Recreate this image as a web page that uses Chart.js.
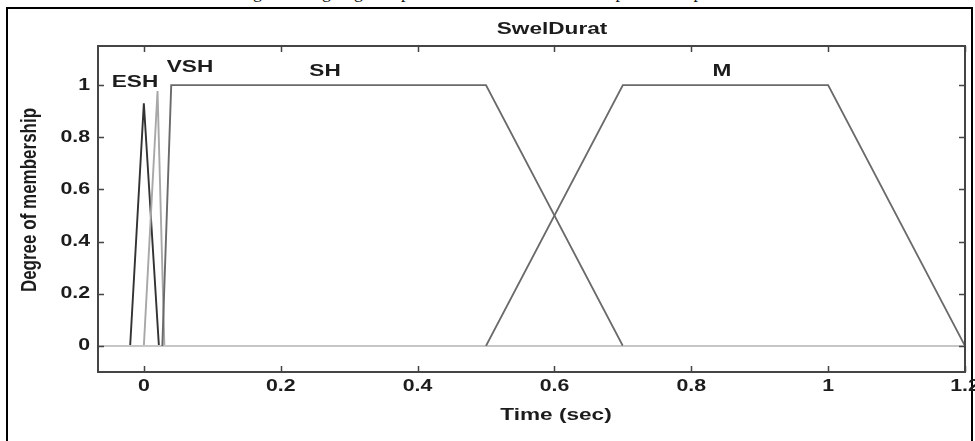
<!DOCTYPE html>
<html>
<head>
<meta charset="utf-8">
<script src="https://cdn.jsdelivr.net/npm/chart.js@4.4.1/dist/chart.umd.min.js"></script>
<style>
  html, body { margin: 0; padding: 0; background: #fff; }
  #wrap { position: relative; width: 975px; height: 441px; overflow: hidden; }
  #caption {
    position: absolute; left: 238px; top: -17px; white-space: nowrap;
    font: 18px/18px "Liberation Serif", serif; color: #111;
  }
  #mfChart { position: absolute; left: 0; top: 0; }
</style>
</head>
<body>
<div id="wrap">
  <div id="caption">Fig. 6&nbsp; Designing of input swell duration membership function plot</div>
  <canvas id="mfChart" width="975" height="441"></canvas>
</div>
<script>
// membership functions of SwelDurat (x = time in sec, y = degree of membership)
const eshX = [-0.067, -0.02, 0, 0.022, 1.2];
const eshY = [0, 0, 0.93, 0, 0];
const vshX = [-0.067, 0, 0.02, 0.03, 1.2];
const vshY = [0, 0, 0.977, 0, 0];
const shX = [-0.067, 0.027, 0.04, 0.5, 0.7, 1.2];
const shY = [0, 0, 1, 1, 0, 0];
const mX = [-0.067, 0.5, 0.7, 1.0, 1.2];
const mY = [0, 0, 1, 1, 0];

const mfNames = ['ESH', 'VSH', 'SH', 'M'];
const xTicks = [0, 0.2, 0.4, 0.6, 0.8, 1, 1.2];
const yTicks = [0, 0.2, 0.4, 0.6, 0.8, 1];

function pts(xs, ys) {
  return xs.map((x, i) => ({ x: x, y: ys[i] }));
}

const zeroGray = '#c6c6c6';
function mfDataset(label, xs, ys, color) {
  return {
    label: label,
    data: pts(xs, ys),
    borderColor: color,
    borderWidth: 1.9,
    pointRadius: 0,
    tension: 0,
    segment: {
      borderColor: c => (c.p0.parsed.y === 0 && c.p1.parsed.y === 0) ? zeroGray : undefined
    }
  };
}

// text helper: the figure is horizontally stretched, so glyphs are widened
const SX = 1.33;
function stretchText(ctx, text, x, y, font, align, rotate) {
  ctx.save();
  ctx.translate(x, y);
  ctx.scale(SX, 1);
  if (rotate) ctx.rotate(rotate);
  ctx.font = font;
  ctx.fillStyle = '#1c1c1c';
  ctx.textAlign = align || 'center';
  ctx.textBaseline = 'middle';
  ctx.fillText(text, 0, 0);
  ctx.restore();
}

const decorations = {
  id: 'decorations',
  afterDraw(chart) {
    const ctx = chart.ctx;
    const xs = chart.scales.x, ys = chart.scales.y;
    const a = chart.chartArea;

    // axes box
    ctx.save();
    ctx.strokeStyle = '#454545';
    ctx.lineWidth = 2;
    ctx.strokeRect(a.left, a.top, a.right - a.left, a.bottom - a.top);

    // inward ticks on all four sides
    ctx.lineWidth = 1.5;
    ctx.beginPath();
    xTicks.forEach(v => {
      const px = Math.round(xs.getPixelForValue(v)) + 0.5;
      ctx.moveTo(px, a.bottom); ctx.lineTo(px, a.bottom - 6);
      ctx.moveTo(px, a.top); ctx.lineTo(px, a.top + 6);
    });
    yTicks.forEach(v => {
      const py = Math.round(ys.getPixelForValue(v)) + 0.5;
      ctx.moveTo(a.left, py); ctx.lineTo(a.left + 6, py);
      ctx.moveTo(a.right, py); ctx.lineTo(a.right - 6, py);
    });
    ctx.stroke();

    // outer frame
    ctx.strokeStyle = '#000';
    ctx.lineWidth = 2;
    ctx.strokeRect(7, 8, 965, 470);
    ctx.restore();

    const bold16 = 'bold 16px "Liberation Sans"';
    const bold17 = 'bold 17px "Liberation Sans"';

    xTicks.forEach(v => stretchText(ctx, String(v), xs.getPixelForValue(v), 387, bold16, 'center'));
    yTicks.forEach(v => stretchText(ctx, String(v), 90, ys.getPixelForValue(v), bold16, 'right'));

    stretchText(ctx, 'SwelDurat', 552, 29, bold17, 'center');
    stretchText(ctx, 'Time (sec)', 556, 415, bold17, 'center');
    stretchText(ctx, 'Degree of membership', 30, 200, bold17, 'center', -Math.PI / 2);

    // membership function names
    stretchText(ctx, mfNames[0], 135, 82, bold17, 'center');
    stretchText(ctx, mfNames[1], 190, 67, bold17, 'center');
    stretchText(ctx, mfNames[2], 325, 71, bold17, 'center');
    stretchText(ctx, mfNames[3], 722, 71, bold17, 'center');
  }
};

new Chart(document.getElementById('mfChart'), {
  type: 'line',
  data: {
    datasets: [
      mfDataset(mfNames[2], shX, shY, '#6a6a6a'),
      mfDataset(mfNames[3], mX, mY, '#6a6a6a'),
      mfDataset(mfNames[1], vshX, vshY, '#a8a8a8'),
      mfDataset(mfNames[0], eshX, eshY, '#333333')
    ]
  },
  options: {
    responsive: false,
    animation: false,
    devicePixelRatio: 1,
    layout: { padding: { left: 98, right: 10, top: 46, bottom: 69 } },
    plugins: {
      legend: { display: false },
      title: { display: false },
      tooltip: { enabled: false }
    },
    scales: {
      x: { type: 'linear', min: -0.067, max: 1.2, display: false },
      y: { type: 'linear', min: -0.1, max: 1.15, display: false }
    }
  },
  plugins: [decorations]
});
</script>
</body>
</html>
